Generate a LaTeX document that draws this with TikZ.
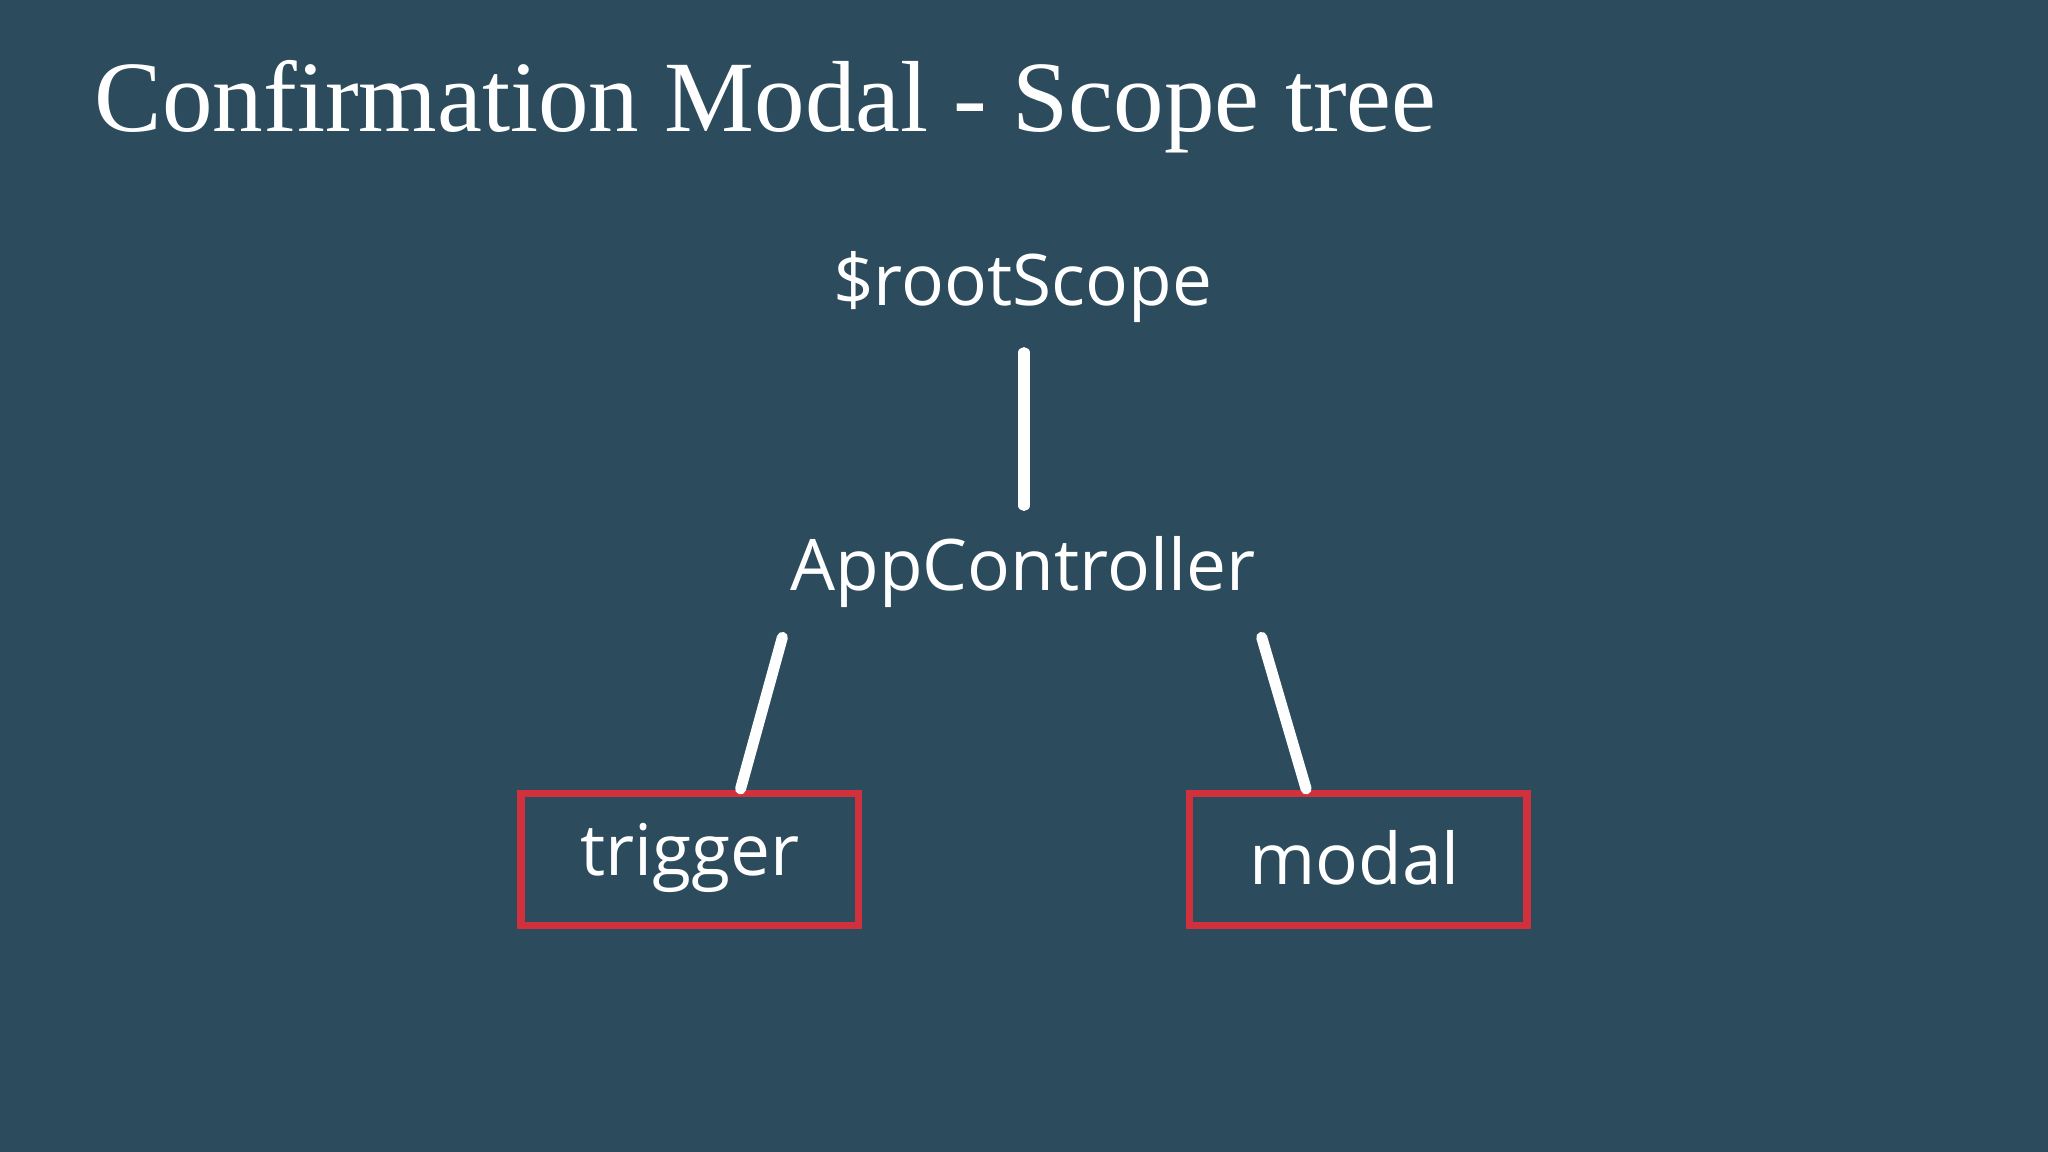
\documentclass[tikz,border=0pt]{standalone}
\usepackage{fontspec}
\setmainfont{Liberation Serif}
\newfontfamily\labelfont{Open Sans}
\definecolor{bg}{HTML}{2C4B5C}
\definecolor{boxred}{HTML}{D0313D}
\begin{document}
\begin{tikzpicture}[x=0.01cm,y=-0.01cm,
  lbl/.style={text=white,font=\labelfont\fontsize{15.5}{19}\selectfont,inner sep=0pt},
  redbox/.style={draw=boxred,line width=1.6pt,minimum width=2.58cm,minimum height=1.01cm,inner sep=0pt},
  edge/.style={white,line width=2.4pt,line cap=round}]
\fill[bg] (0,0) rectangle (1568,882);
\useasboundingbox (0,0) rectangle (1568,882);
\node[anchor=base west,text=white,font=\fontsize{22}{26}\selectfont,inner sep=0pt] (title) at (72,101) {Confirmation Modal - Scope tree};
\node[lbl] (root) at (783,220) {\$rootScope};
\node[lbl] (app) at (783,438) {AppController};
\node[redbox] (trig) at (528,658) {};
\node[redbox] (modal) at (1040,658) {};
\node[lbl] (trigt) at (528,657) {trigger};
\node[lbl] (modalt) at (1037,657) {modal};
\coordinate (r1) at (784,270); \coordinate (r2) at (784,387);
\coordinate (a1) at (599,488); \coordinate (a2) at (567,604);
\coordinate (b1) at (966,488); \coordinate (b2) at (1000,604);
\draw[edge] (r1) -- (r2);
\draw[edge] (a1) -- (a2);
\draw[edge] (b1) -- (b2);
\end{tikzpicture}
\end{document}
